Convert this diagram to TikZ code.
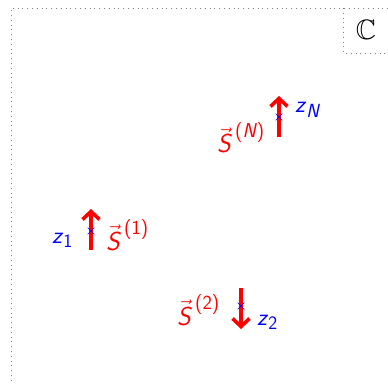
\documentclass[tikz,border=0pt]{standalone}
\usepackage{amssymb}
\usetikzlibrary{arrows.meta,shapes.misc}
\newcommand{\mysub}[1]{\raisebox{-0.17em}{\fontsize{19}{19}\selectfont #1}}
\newcommand{\mysup}[1]{\kern3pt\raisebox{0.58em}{\fontsize{20}{20}\selectfont #1}}
\newcommand{\vecS}{$\vec{\mbox{\textit{S}}}$}
\tikzset{
  frame/.style={gray, line width=0.6pt, dash pattern=on 0.8pt off 4pt},
  spin/.style={red, line width=3.6pt, -{Straight Barb[length=8pt,width=17pt]}},
  lab/.style={font=\sffamily\fontsize{24}{28}\selectfont, inner sep=0pt},
  zlab/.style={lab, text=blue, anchor=base west},
  slab/.style={lab, font=\sffamily\fontsize{26}{30}\selectfont, text=red, anchor=base west},
  cross/.style={cross out, draw=blue, line width=0.6pt, minimum size=6pt, inner sep=0pt}
}
\begin{document}
\begin{tikzpicture}[x=1pt,y=-1pt]
\useasboundingbox (0,0) rectangle (388,385);
% frame
\coordinate (tl) at (11,8);
\coordinate (tr) at (388,8);
\coordinate (bl) at (11,383);
\draw[frame] (tr) -- (tl) -- (bl);
\coordinate (ct) at (343,8);
\coordinate (cc) at (343,53);
\coordinate (cr) at (388,53);
\draw[frame] (ct) -- (cc) -- (cr);
\node[inner sep=0pt, font=\fontsize{28}{30}\selectfont] (C) at (366,30) {$\mathbb{C}$};
% spin N
\coordinate (aNs) at (279,137);
\coordinate (aNe) at (279,96);
\draw[spin] (aNs) -- (aNe);
\node[cross] (pN) at (279,117) {};
\node[zlab] (zN) at (295,113) {\textit{z}\mysub{\textit{N}}};
\node[slab] (SN) at (217,153) {\vecS\mysup{(\textit{N})}};
% spin 1
\coordinate (a1s) at (91,250);
\coordinate (a1e) at (91,209);
\draw[spin] (a1s) -- (a1e);
\node[cross] (p1) at (91,231) {};
\node[zlab] (z1) at (52,243) {\textit{z}\mysub{1}};
\node[slab] (S1) at (106,250) {\vecS\mysup{(1)}};
% spin 2
\coordinate (a2s) at (241,288);
\coordinate (a2e) at (241,329);
\draw[spin] (a2s) -- (a2e);
\node[cross] (p2) at (241,306) {};
\node[zlab] (z2) at (257,325) {\textit{z}\mysub{2}};
\node[slab] (S2) at (177,325) {\vecS\mysup{(2)}};
\end{tikzpicture}
\end{document}
